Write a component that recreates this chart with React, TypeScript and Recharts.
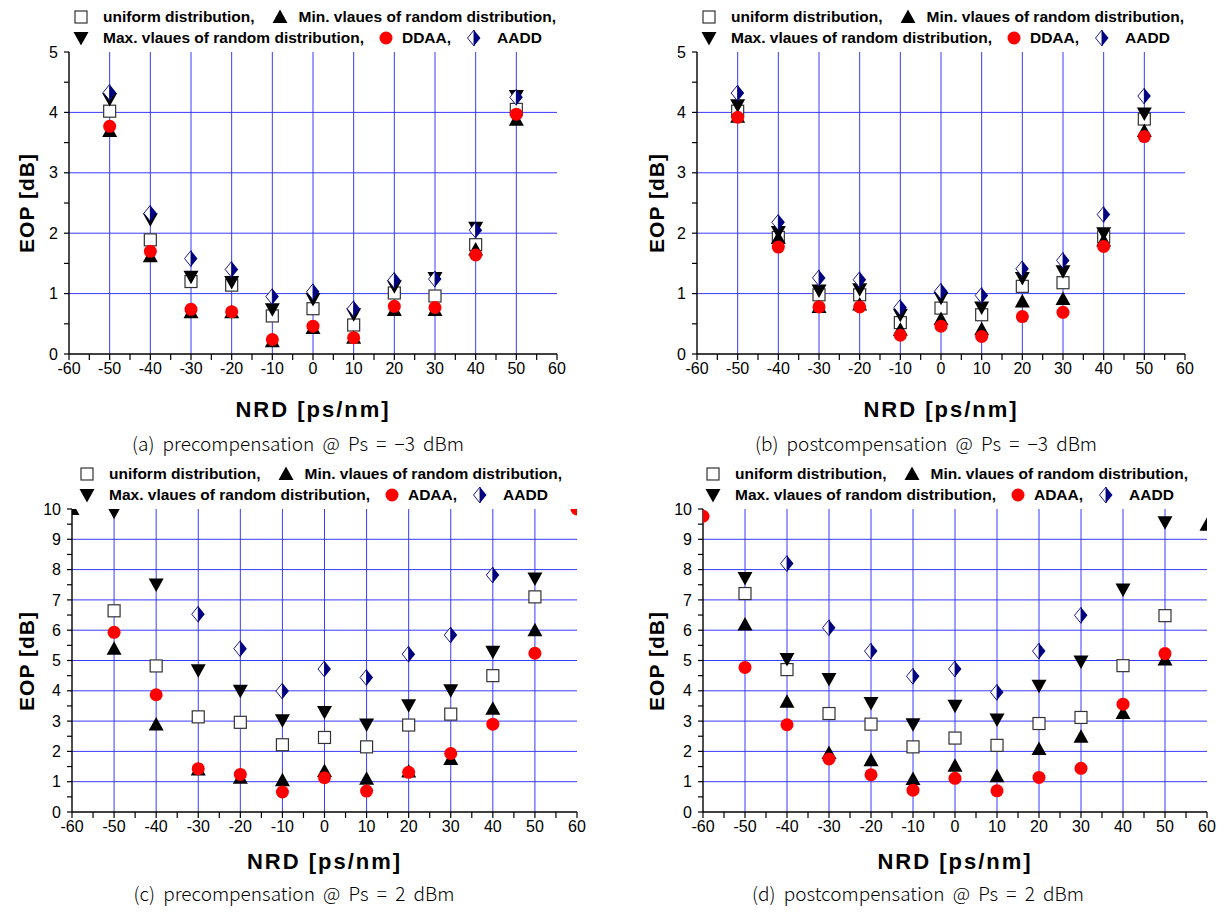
import React from 'react';
import { ScatterChart, Scatter, XAxis, YAxis, ReferenceLine } from 'recharts';

// ---------- data ----------
const NRD = [-60, -50, -40, -30, -20, -10, 0, 10, 20, 30, 40, 50, 60];
const X_TICKS = [-60, -55, -50, -45, -40, -35, -30, -25, -20, -15, -10, -5, 0, 5, 10, 15, 20, 25, 30, 35, 40, 45, 50, 55, 60];
const X_GRID = [-50, -40, -30, -20, -10, 0, 10, 20, 30, 40, 50];
const Y5_TICKS = [0, 0.5, 1, 1.5, 2, 2.5, 3, 3.5, 4, 4.5, 5];
const Y5_GRID = [1, 2, 3, 4];
const Y10_TICKS = [0, 0.5, 1, 1.5, 2, 2.5, 3, 3.5, 4, 4.5, 5, 5.5, 6, 6.5, 7, 7.5, 8, 8.5, 9, 9.5, 10];
const Y10_GRID = [1, 2, 3, 4, 5, 6, 7, 8, 9];

// (a) precompensation @ Ps = -3 dBm
const A_UNIFORM = [null, 4.02, 1.89, 1.2, 1.14, 0.63, 0.75, 0.48, 1.01, 0.96, 1.81, 4.05, null];
const A_MIN = [null, 3.69, 1.62, 0.69, 0.69, 0.21, 0.43, 0.27, 0.73, 0.73, 1.73, 3.88, null];
const A_MAX = [null, 4.22, 2.23, 1.28, 1.19, 0.74, 0.91, 0.66, 1.12, 1.26, 2.09, 4.27, null];
const A_DDAA = [null, 3.77, 1.7, 0.74, 0.7, 0.24, 0.46, 0.27, 0.79, 0.77, 1.64, 3.97, null];
const A_AADD = [null, 4.33, 2.33, 1.58, 1.4, 0.95, 1.03, 0.75, 1.22, 1.24, 2.05, 4.25, null];

// (b) postcompensation @ Ps = -3 dBm
const B_UNIFORM = [null, 4.02, 1.93, 0.98, 0.98, 0.52, 0.76, 0.65, 1.12, 1.18, 1.94, 3.89, null];
const B_MIN = [null, 3.93, 1.92, 0.78, 0.82, 0.4, 0.58, 0.41, 0.87, 0.91, 1.88, 3.69, null];
const B_MAX = [null, 4.12, 2.02, 1.05, 1.07, 0.65, 0.93, 0.77, 1.26, 1.37, 2.0, 3.98, null];
const B_DDAA = [null, 3.92, 1.77, 0.78, 0.78, 0.31, 0.46, 0.29, 0.62, 0.69, 1.78, 3.6, null];
const B_AADD = [null, 4.32, 2.18, 1.26, 1.23, 0.77, 1.04, 0.97, 1.41, 1.55, 2.31, 4.27, null];

// (c) precompensation @ Ps = 2 dBm
const C_UNIFORM = [null, 6.64, 4.82, 3.14, 2.96, 2.22, 2.46, 2.15, 2.87, 3.23, 4.5, 7.1, null];
const C_MIN = [10, 5.39, 2.89, 1.4, 1.13, 1.05, 1.35, 1.1, 1.34, 1.75, 3.41, 6.0, null];
const C_MAX = [null, 9.91, 7.51, 4.68, 4.0, 3.03, 3.3, 2.89, 3.52, 4.02, 5.29, 7.71, null];
const C_ADAA = [null, 5.93, 3.87, 1.43, 1.24, 0.66, 1.13, 0.69, 1.31, 1.93, 2.9, 5.24, 10];
const C_AADD = [null, null, null, 6.53, 5.39, 3.99, 4.72, 4.44, 5.21, 5.84, 7.82, null, null];

// (d) postcompensation @ Ps = 2 dBm
const D_UNIFORM = [null, 7.21, 4.7, 3.25, 2.9, 2.15, 2.44, 2.2, 2.92, 3.12, 4.83, 6.48, null];
const D_MIN = [null, 6.19, 3.64, 1.95, 1.71, 1.09, 1.53, 1.18, 2.08, 2.48, 3.27, 5.03, 9.48];
const D_MAX = [null, 7.72, 5.05, 4.39, 3.6, 2.9, 3.51, 3.05, 4.17, 4.97, 7.34, 9.56, null];
const D_ADAA = [9.76, 4.77, 2.88, 1.75, 1.23, 0.72, 1.11, 0.7, 1.14, 1.44, 3.56, 5.23, null];
const D_AADD = [null, null, 8.2, 6.08, 5.31, 4.48, 4.72, 3.95, 5.31, 6.49, null, null, null];

const LABEL_UNIFORM = 'uniform distribution,';
const LABEL_MIN = 'Min. vlaues of random distribution,';
const LABEL_MAX = 'Max. vlaues of random distribution,';
const LABEL_AADD = 'AADD';

// ---------- styles ----------
const GRID_BLUE = '#3a3aff';
const NAVY = '#000080';
const RED = '#ff0000';
const FONT = '"Liberation Sans", Arial, sans-serif';

const pts = (vals: (number | null)[]) =>
  NRD.map((x, i) => ({ x, y: vals[i] })).filter((p) => p.y !== null);

// ---------- marker shapes ----------
const SquareShape = (p: any) => (
  <rect x={p.cx - 6} y={p.cy - 6} width={12} height={12} fill="#fff" stroke="#333" strokeWidth={1.2} />
);
const UpShape = (p: any) => (
  <path d={`M${p.cx},${p.cy - 7.5} L${p.cx + 7.5},${p.cy + 6} L${p.cx - 7.5},${p.cy + 6} Z`} fill="#000" />
);
const DownShape = (p: any) => (
  <path d={`M${p.cx},${p.cy + 7.5} L${p.cx + 7.5},${p.cy - 6} L${p.cx - 7.5},${p.cy - 6} Z`} fill="#000" />
);
const DotShape = (p: any) => <circle cx={p.cx} cy={p.cy} r={6.5} fill={RED} />;
const DiamondShape = (p: any) => (
  <g>
    <path
      d={`M${p.cx},${p.cy - 8} L${p.cx - 6.5},${p.cy} L${p.cx},${p.cy + 8} Z`}
      fill="#fff"
      stroke={NAVY}
      strokeWidth={0.9}
    />
    <path d={`M${p.cx},${p.cy - 8} L${p.cx + 6.5},${p.cy} L${p.cx},${p.cy + 8} Z`} fill={NAVY} />
  </g>
);

const Sym = ({ shape }: { shape: (p: any) => any }) => (
  <svg width={18} height={18} style={{ display: 'block' }}>
    {shape({ cx: 9, cy: 9 })}
  </svg>
);

// ---------- legend ----------
const Legend = ({ left, top, redLabel }: { left: number; top: number; redLabel: string }) => {
  const txt: React.CSSProperties = {
    fontFamily: FONT,
    fontWeight: 'bold',
    fontSize: 15.5,
    color: '#000',
    whiteSpace: 'nowrap',
  };
  const row: React.CSSProperties = { display: 'flex', alignItems: 'center', height: 21 };
  return (
    <div style={{ position: 'absolute', left, top }}>
      <div style={row}>
        <Sym shape={SquareShape} />
        <span style={{ ...txt, marginLeft: 13 }}>{LABEL_UNIFORM}</span>
        <span style={{ marginLeft: 16 }}>
          <Sym shape={UpShape} />
        </span>
        <span style={{ ...txt, marginLeft: 10 }}>{LABEL_MIN}</span>
      </div>
      <div style={row}>
        <Sym shape={DownShape} />
        <span style={{ ...txt, marginLeft: 13 }}>{LABEL_MAX}</span>
        <span style={{ marginLeft: 13 }}>
          <Sym shape={DotShape} />
        </span>
        <span style={{ ...txt, marginLeft: 7 }}>{redLabel}</span>
        <span style={{ marginLeft: 14 }}>
          <Sym shape={DiamondShape} />
        </span>
        <span style={{ ...txt, marginLeft: 14 }}>{LABEL_AADD}</span>
      </div>
    </div>
  );
};

// ---------- panel ----------
type PanelProps = {
  plotLeft: number;
  plotTop: number;
  plotW: number;
  plotH: number;
  yMax: number;
  yTicks: number[];
  yGrid: number[];
  uniform: (number | null)[];
  min: (number | null)[];
  max: (number | null)[];
  red: (number | null)[];
  aadd: (number | null)[];
  redLabel: string;
  caption: string;
  captionCx: number;
  captionY: number;
  xTitleY: number;
  yTitleX: number;
  legendLeft: number;
  legendTop: number;
};

const YL = 60;
const XB = 40;
const MT = 10;
const MR = 16;

const Panel = (p: PanelProps) => {
  const W = YL + p.plotW + MR;
  const H = MT + p.plotH + XB;
  const tickStyle = { fontSize: 16, fill: '#000', fontFamily: FONT };
  const axisLine = { stroke: '#000', strokeWidth: 1.4 };
  const tickLine = { stroke: '#000', strokeWidth: 1.2 };
  return (
    <>
      <div style={{ position: 'absolute', left: p.plotLeft - YL, top: p.plotTop - MT }}>
        <ScatterChart width={W} height={H} margin={{ top: MT, right: MR, left: 0, bottom: 0 }}>
          <XAxis
            xAxisId="b"
            type="number"
            dataKey="x"
            orientation="bottom"
            domain={[-60, 60]}
            ticks={X_TICKS}
            interval={0}
            allowDataOverflow
            height={XB}
            tickSize={6}
            tickMargin={3}
            axisLine={axisLine}
            tickLine={tickLine}
            tick={tickStyle}
            tickFormatter={(v: number) => (v % 10 === 0 ? String(v) : '')}
          />
          <XAxis
            xAxisId="t"
            type="number"
            dataKey="x"
            orientation="top"
            domain={[-60, 60]}
            ticks={X_TICKS}
            interval={0}
            allowDataOverflow
            height={0}
            mirror
            tickSize={5}
            axisLine={axisLine}
            tickLine={tickLine}
            tickFormatter={() => ''}
          />
          <YAxis
            yAxisId="l"
            type="number"
            dataKey="y"
            domain={[0, p.yMax]}
            ticks={p.yTicks}
            interval={0}
            allowDataOverflow
            width={YL}
            tickSize={5}
            tickMargin={6}
            axisLine={axisLine}
            tickLine={tickLine}
            tick={tickStyle}
            tickFormatter={(v: number) => (Number.isInteger(v) ? String(v) : '')}
          />
          <YAxis
            yAxisId="r"
            type="number"
            dataKey="y"
            orientation="right"
            domain={[0, p.yMax]}
            ticks={p.yTicks}
            interval={0}
            allowDataOverflow
            width={0}
            mirror
            tickSize={5}
            axisLine={axisLine}
            tickLine={tickLine}
            tickFormatter={() => ''}
          />
          {X_GRID.map((v) => (
            <ReferenceLine key={'vx' + v} x={v} xAxisId="b" yAxisId="l" stroke={GRID_BLUE} strokeWidth={1} />
          ))}
          {p.yGrid.map((v) => (
            <ReferenceLine key={'hy' + v} y={v} xAxisId="b" yAxisId="l" stroke={GRID_BLUE} strokeWidth={1} />
          ))}
          <Scatter data={pts(p.uniform)} xAxisId="b" yAxisId="l" shape={SquareShape} isAnimationActive={false} />
          <Scatter data={pts(p.min)} xAxisId="b" yAxisId="l" shape={UpShape} isAnimationActive={false} />
          <Scatter data={pts(p.max)} xAxisId="b" yAxisId="l" shape={DownShape} isAnimationActive={false} />
          <Scatter data={pts(p.red)} xAxisId="b" yAxisId="l" shape={DotShape} isAnimationActive={false} />
          <Scatter data={pts(p.aadd)} xAxisId="b" yAxisId="l" shape={DiamondShape} isAnimationActive={false} />
        </ScatterChart>
      </div>
      <Legend left={p.legendLeft} top={p.legendTop} redLabel={p.redLabel} />
      <div
        style={{
          position: 'absolute',
          left: p.yTitleX - 100,
          top: p.plotTop + p.plotH / 2 - 14,
          width: 200,
          height: 28,
          textAlign: 'center',
          transform: 'rotate(-90deg)',
          fontFamily: FONT,
          fontWeight: 'bold',
          fontSize: 21,
          letterSpacing: 1,
          lineHeight: '28px',
        }}
      >
        EOP [dB]
      </div>
      <div
        style={{
          position: 'absolute',
          left: p.plotLeft,
          width: p.plotW,
          top: p.xTitleY - 14,
          height: 28,
          lineHeight: '28px',
          textAlign: 'center',
          fontFamily: FONT,
          fontWeight: 'bold',
          fontSize: 22,
          letterSpacing: 2,
        }}
      >
        NRD [ps/nm]
      </div>
      <div
        style={{
          position: 'absolute',
          left: p.captionCx - 250,
          width: 500,
          top: p.captionY - 14,
          height: 28,
          lineHeight: '28px',
          textAlign: 'center',
          fontFamily: '"Noto Sans CJK KR", sans-serif',
          fontWeight: 300,
          fontSize: 19,
          wordSpacing: 4,
          whiteSpace: 'pre',
        }}
      >
        {p.caption}
      </div>
    </>
  );
};

export default function App() {
  return (
    <div
      style={{
        position: 'absolute',
        left: 0,
        top: 0,
        width: 1224,
        height: 914,
        background: '#fff',
        overflow: 'hidden',
      }}
    >
      <Panel
        plotLeft={69}
        plotTop={52}
        plotW={488}
        plotH={302}
        yMax={5}
        yTicks={Y5_TICKS}
        yGrid={Y5_GRID}
        uniform={A_UNIFORM}
        min={A_MIN}
        max={A_MAX}
        red={A_DDAA}
        aadd={A_AADD}
        redLabel="DDAA,"
        caption="(a) precompensation @ Ps = −3 dBm"
        captionCx={298}
        captionY={443}
        xTitleY={410}
        yTitleX={27}
        legendLeft={72}
        legendTop={6}
      />
      <Panel
        plotLeft={697}
        plotTop={52}
        plotW={488}
        plotH={302}
        yMax={5}
        yTicks={Y5_TICKS}
        yGrid={Y5_GRID}
        uniform={B_UNIFORM}
        min={B_MIN}
        max={B_MAX}
        red={B_DDAA}
        aadd={B_AADD}
        redLabel="DDAA,"
        caption="(b) postcompensation @ Ps = −3 dBm"
        captionCx={926}
        captionY={443}
        xTitleY={410}
        yTitleX={657}
        legendLeft={700}
        legendTop={6}
      />
      <Panel
        plotLeft={72}
        plotTop={509}
        plotW={505}
        plotH={303}
        yMax={10}
        yTicks={Y10_TICKS}
        yGrid={Y10_GRID}
        uniform={C_UNIFORM}
        min={C_MIN}
        max={C_MAX}
        red={C_ADAA}
        aadd={C_AADD}
        redLabel="ADAA,"
        caption="(c) precompensation @ Ps = 2 dBm"
        captionCx={294}
        captionY={893}
        xTitleY={862}
        yTitleX={27}
        legendLeft={78}
        legendTop={463}
      />
      <Panel
        plotLeft={703}
        plotTop={509}
        plotW={504}
        plotH={303}
        yMax={10}
        yTicks={Y10_TICKS}
        yGrid={Y10_GRID}
        uniform={D_UNIFORM}
        min={D_MIN}
        max={D_MAX}
        red={D_ADAA}
        aadd={D_AADD}
        redLabel="ADAA,"
        caption="(d) postcompensation @ Ps = 2 dBm"
        captionCx={918}
        captionY={893}
        xTitleY={862}
        yTitleX={657}
        legendLeft={704}
        legendTop={463}
      />
    </div>
  );
}
